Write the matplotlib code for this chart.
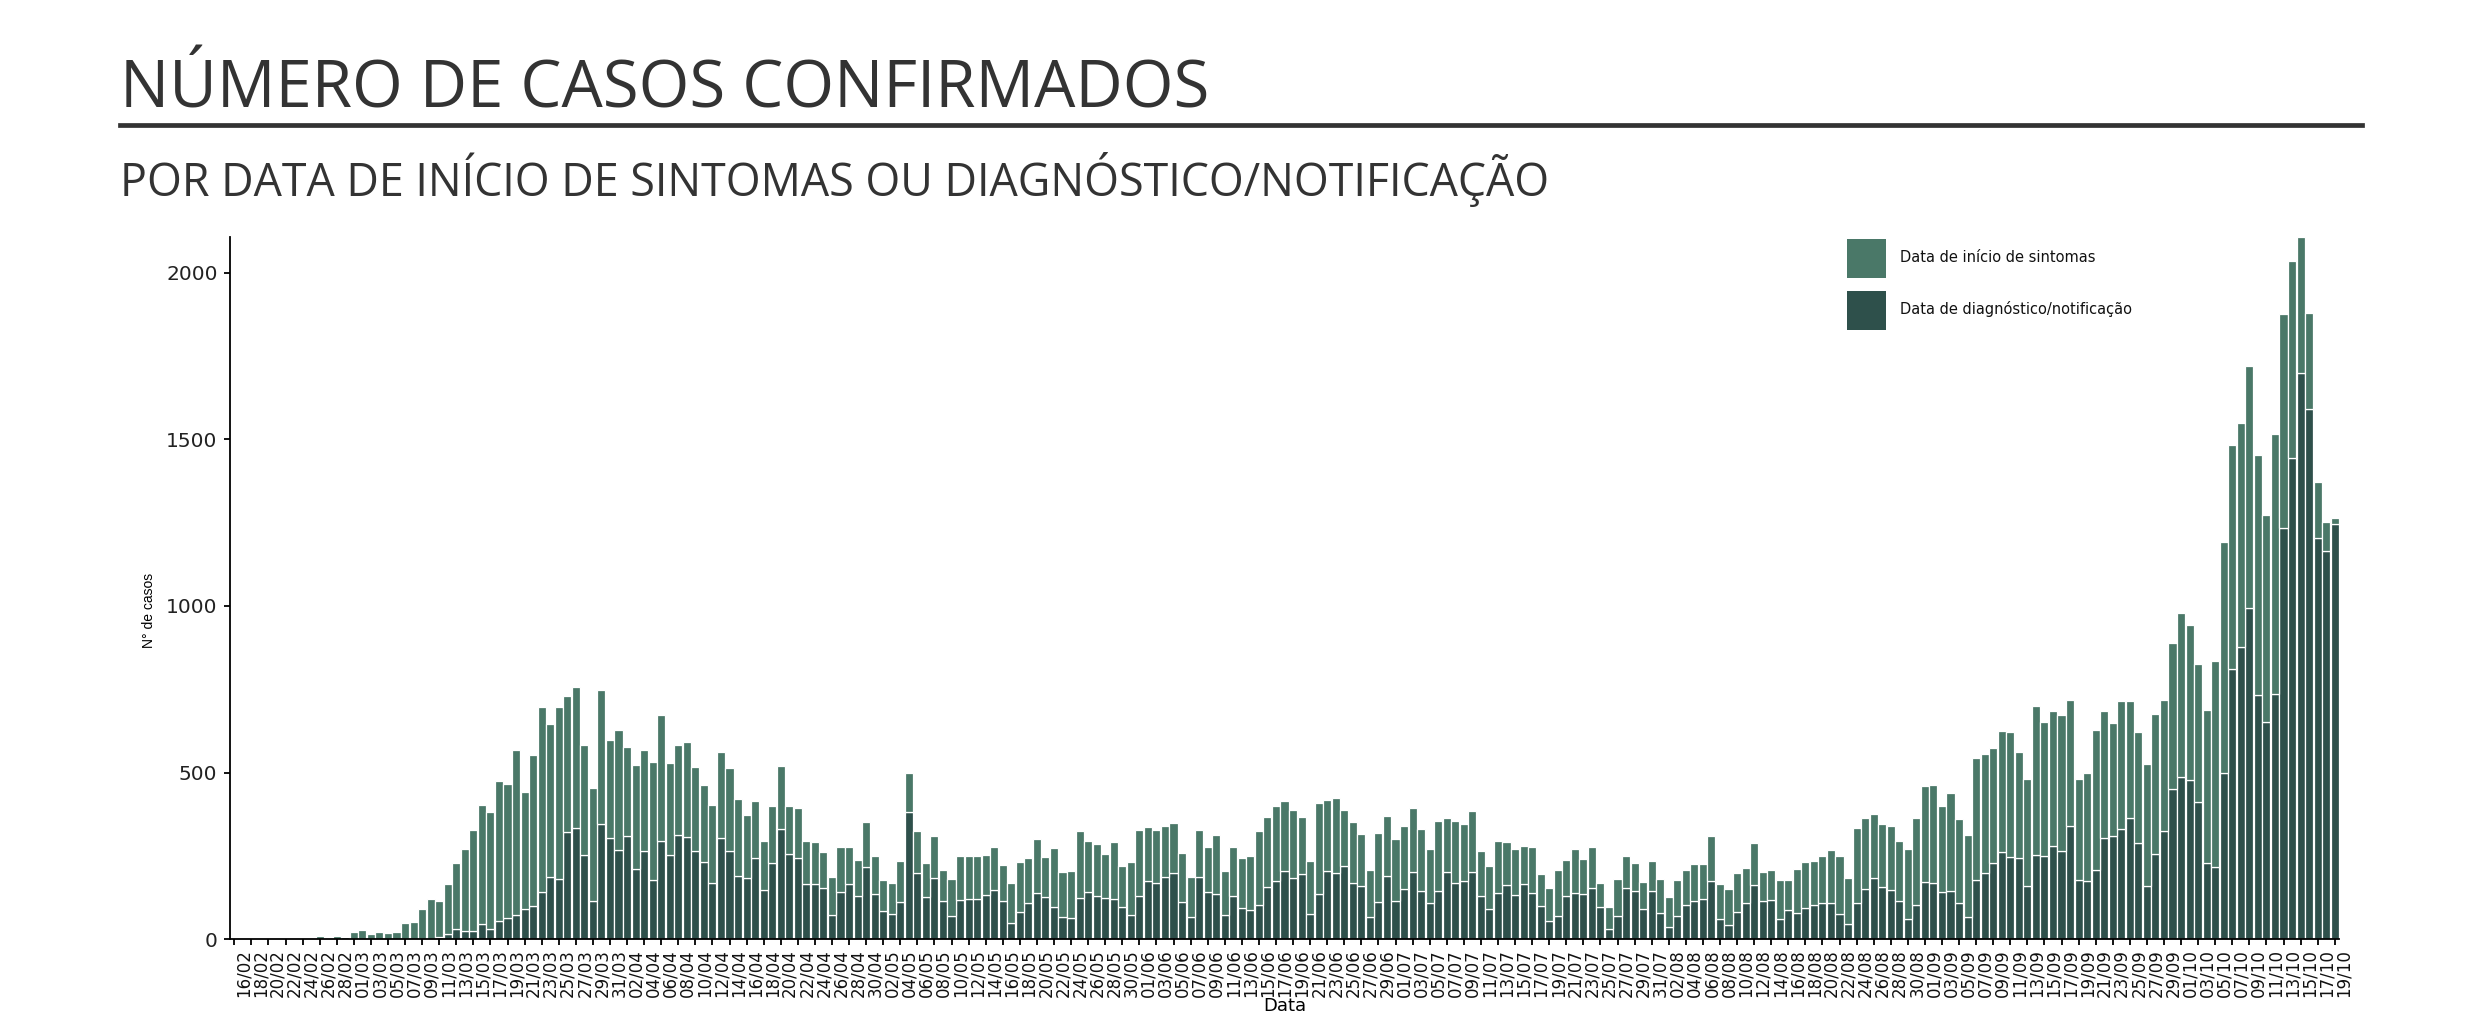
"""
Número de casos confirmados por data de início de sintomas ou
diagnóstico/notificação, de 16/02 a 19/10.
"""

import numpy as np
import pandas as pd
import matplotlib as mpl
mpl.use('Agg')
import matplotlib.pyplot as plt
from matplotlib.lines import Line2D
from matplotlib.patches import Rectangle


# altura total de cada barra (sintomas + diagnóstico), por mês
total_fev = [0, 0, 0, 0, 0, 0, 0, 0, 0, 0, 10, 3, 10, 7]
total_mar = [22, 27, 16, 22, 19, 22, 49, 52, 91, 121,
             115, 166, 229, 271, 328, 404, 382, 475, 466, 568,
             442, 553, 697, 646, 697, 730, 757, 583, 454, 748, 598]
total_abr = [628, 577, 523, 568, 532, 673, 529, 583, 592, 517,
             463, 403, 562, 514, 421, 373, 415, 295, 400, 520,
             400, 394, 295, 292, 262, 187, 277, 277, 238, 351]
total_mai = [250, 178, 169, 235, 498, 325, 229, 310, 208, 181,
             250, 250, 250, 253, 277, 223, 169, 232, 244, 301,
             247, 274, 202, 205, 325, 295, 286, 256, 292, 220, 232]
total_jun = [328, 337, 328, 340, 349, 259, 187, 328, 277, 313,
             205, 277, 244, 250, 325, 367, 400, 415, 388, 367,
             235, 409, 418, 423, 388, 352, 316, 208, 319, 370]
total_jul = [301, 340, 394, 331, 271, 355, 364, 355, 346, 385,
             265, 220, 295, 292, 271, 280, 277, 196, 154, 208,
             238, 271, 241, 277, 169, 97, 181, 250, 229, 172, 235]
total_ago = [181, 127, 178, 208, 226, 226, 310, 166, 151, 199,
             214, 289, 202, 208, 178, 178, 211, 232, 235, 250,
             268, 250, 184, 334, 364, 376, 346, 340, 295, 271, 364]
total_set = [460, 463, 400, 439, 361, 313, 544, 556, 574, 625,
             622, 562, 481, 700, 652, 685, 673, 718, 481, 499,
             628, 685, 649, 715, 715, 622, 526, 676, 718, 889]
total_out = [979, 943, 826, 688, 835, 1191, 1483, 1550, 1720, 1453,
             1273, 1516, 1876, 2035, 2106, 1878, 1371, 1251, 1264]

# casos por data de diagnóstico/notificação (parte escura, em baixo)
diag_fev = [0] * 14
diag_mar = [0, 0, 0, 0, 0, 0, 0, 0, 0, 0,
            8, 16, 30, 25, 24, 46, 30, 56, 64, 73,
            90, 100, 142, 188, 182, 322, 335, 252, 114, 345, 305]
diag_abr = [267, 309, 212, 264, 177, 296, 252, 314, 308, 266,
            232, 168, 305, 266, 190, 185, 245, 147, 229, 331,
            255, 245, 166, 166, 155, 72, 143, 166, 129, 218]
diag_mai = [135, 84, 75, 112, 381, 198, 126, 183, 114, 70,
            117, 120, 120, 132, 147, 114, 48, 82, 108, 140,
            128, 97, 66, 63, 123, 142, 129, 123, 120, 96, 72]
diag_jun = [129, 174, 168, 186, 198, 112, 68, 187, 141, 135,
            72, 129, 94, 88, 102, 158, 174, 204, 183, 195,
            75, 136, 204, 198, 219, 168, 159, 66, 111, 189]
diag_jul = [114, 150, 201, 144, 108, 144, 201, 168, 174, 201,
            129, 90, 138, 162, 132, 165, 139, 100, 54, 69,
            129, 138, 135, 153, 96, 30, 71, 153, 144, 90, 144]
diag_ago = [78, 36, 69, 102, 114, 120, 174, 60, 42, 81,
            108, 162, 114, 117, 60, 87, 78, 93, 102, 108,
            108, 75, 45, 108, 150, 183, 156, 147, 114, 60, 102]
diag_set = [171, 168, 141, 144, 108, 66, 177, 198, 228, 261,
            246, 243, 159, 252, 249, 279, 264, 339, 177, 174,
            207, 303, 309, 330, 363, 288, 159, 255, 324, 450]
diag_out = [486, 478, 413, 228, 217, 500, 811, 876, 995, 732,
            651, 736, 1235, 1445, 1700, 1590, 1203, 1166, 1245]

datas = pd.date_range('2020-02-16', '2020-10-19', freq='D')
rotulos = [d.strftime('%d/%m') for d in datas]

y_ticks = [0, 500, 1000, 1500, 2000]
legenda = ['Data de início de sintomas', 'Data de diagnóstico/notificação']

COR_SINTOMAS = '#4a7868'
COR_DIAGNOSTICO = '#2e504b'
COR_TITULO = '#333333'
W, H = 2479, 1032


def fx(px):
    return px / W


def fy(px):
    return 1 - px / H


def cabecalho(fig):
    """
    Título, linha e subtítulo no topo da figura.
    """
    fig.text(fx(120), fy(107), 'NÚMERO DE CASOS CONFIRMADOS',
             fontsize=47, family='Open Sans', color=COR_TITULO,
             ha='left', va='baseline')
    fig.add_artist(Line2D([fx(120), fx(2362)], [fy(125), fy(125)],
                          lw=3.4, color=COR_TITULO))
    fig.text(fx(120), fy(196),
             'POR DATA DE INÍCIO DE SINTOMAS OU DIAGNÓSTICO/NOTIFICAÇÃO',
             fontsize=32.2, family='Open Sans', color=COR_TITULO,
             ha='left', va='baseline')


def desenha_legenda(fig):
    """
    Legenda com os dois quadrados no canto superior direito.
    """
    for i, (nome, cor) in enumerate(zip(legenda,
                                        [COR_SINTOMAS, COR_DIAGNOSTICO])):
        topo = 239 + 52 * i
        fig.add_artist(Rectangle((fx(1847), fy(topo + 39)), 39 / W, 39 / H,
                                 facecolor=cor, edgecolor='none'))
        fig.text(fx(1900), fy(topo + 18), nome, fontsize=10.5,
                 family='DejaVu Sans', color='#111111',
                 ha='left', va='center')


def main():
    total = np.array(total_fev + total_mar + total_abr + total_mai +
                     total_jun + total_jul + total_ago + total_set +
                     total_out)
    diagnostico = np.array(diag_fev + diag_mar + diag_abr + diag_mai +
                           diag_jun + diag_jul + diag_ago + diag_set +
                           diag_out)
    sintomas = total - diagnostico
    x = np.arange(len(datas))

    fig = plt.figure(figsize=(W / 100, H / 100), dpi=100)
    ax = fig.add_axes([fx(230), fy(939.3), (2339 - 230) / W,
                       (939.3 - 237.3) / H])

    ax.bar(x, diagnostico, width=0.95, color=COR_DIAGNOSTICO,
           edgecolor='white', linewidth=0.9)
    ax.bar(x, sintomas, bottom=diagnostico, width=0.95, color=COR_SINTOMAS,
           edgecolor='white', linewidth=0.9)

    ax.set_xlim(-0.5, len(x) - 0.5)
    ax.set_ylim(0, total.max())

    ax.set_xticks(x[::2])
    ax.set_xticklabels(rotulos[::2], rotation=90, ha='left', va='top',
                       family='DejaVu Sans', fontsize=12, color='#111111')
    ax.set_yticks(y_ticks)
    ax.set_yticklabels([str(v) for v in y_ticks], family='DejaVu Sans',
                       fontsize=14.5, color='#222222')
    ax.tick_params(axis='x', length=4, width=1.3, pad=3)
    ax.tick_params(axis='y', length=4.5, width=1.3, pad=4.5)

    for lado in ['top', 'right']:
        ax.spines[lado].set_visible(False)
    for lado in ['left', 'bottom']:
        ax.spines[lado].set_linewidth(1.3)
        ax.spines[lado].set_color('black')

    ax.set_ylabel('N° de casos', family='Liberation Sans', fontsize=10)
    ax.yaxis.set_label_coords(-0.0351, 0.469)
    ax.set_xlabel('Data', family='DejaVu Sans', fontsize=13, labelpad=0)

    cabecalho(fig)
    desenha_legenda(fig)

    fig.savefig('out.png', dpi=100)
    plt.close('all')


if __name__ == '__main__':
    main()
